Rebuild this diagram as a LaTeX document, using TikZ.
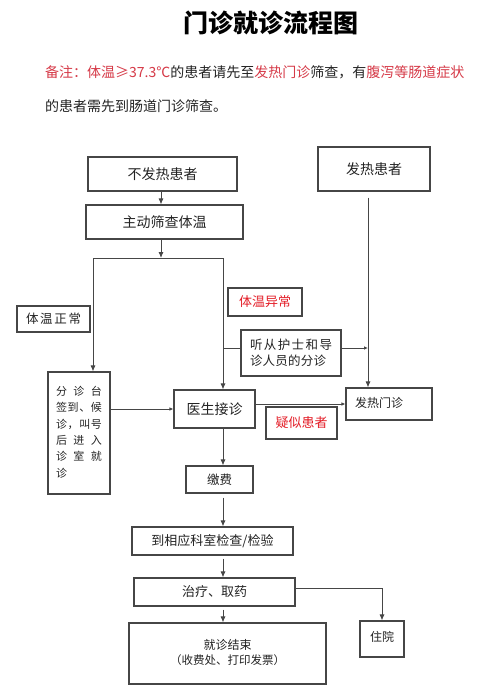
\documentclass[tikz,border=0pt]{standalone}
\usepackage{fontspec}
\newfontfamily\cjk{Noto Sans CJK SC}
\usetikzlibrary{arrows.meta,calc}
\definecolor{notered}{RGB}{214,58,72}
\definecolor{alertred}{RGB}{228,30,40}
\definecolor{ln}{RGB}{70,70,70}
\definecolor{txt}{RGB}{35,35,35}
\newcommand\myfs[1]{\fontsize{#1pt}{#1pt}\selectfont}
\tikzset{
 box/.style={draw=ln, line width=1.1pt, rectangle, inner sep=0pt, text=txt},
 conn/.style={draw=ln, line width=0.9pt},
 arr/.style={conn, -{Latex[length=6pt,width=5pt]}},
 sarr/.style={conn, -{Latex[length=4pt,width=3.5pt]}},
}
\begin{document}
\begin{tikzpicture}[x=1pt,y=-1pt]
\useasboundingbox[fill=white] (0,0) rectangle (500,690);
% title and note
\node[font=\cjk\bfseries\myfs{25}, text=black] (title) at (271,22.5) {门诊就诊流程图};
\node[font=\cjk\myfs{14}, anchor=west, text=txt, inner sep=0pt] (note1) at (45,72)
 {\textcolor{notered}{备注：体温≥37.3℃}的患者请先至\textcolor{notered}{发热门诊}筛查，有\textcolor{notered}{腹泻等肠道症状}};
\node[font=\cjk\myfs{14}, anchor=west, text=txt, inner sep=0pt] (note2) at (45,106) {的患者需先到肠道门诊筛查。};
% boxes
\node[box, font=\cjk\myfs{14}, minimum width=149pt, minimum height=34pt] (n1) at (162.5,174) {\raisebox{-2pt}{不发热患者}};
\node[box, font=\cjk\myfs{14}, minimum width=157pt, minimum height=34pt] (n2) at (164.5,222) {\raisebox{-3pt}{主动筛查体温}};
\node[box, font=\cjk\myfs{14}, minimum width=112pt, minimum height=44pt] (fp) at (374,169) {发热患者};
\node[box, font=\cjk\myfs{12.5}, minimum width=73pt, minimum height=26pt] (tzc) at (53.5,319) {\makebox[55pt][s]{体\hfill 温\hfill 正\hfill 常}};
\node[box, font=\cjk\myfs{13}, text=alertred, minimum width=74pt, minimum height=28pt] (tyc) at (265,302) {体温异常};
\node[box, font=\cjk\myfs{12.5}, minimum width=100pt, minimum height=46pt, align=left] (tc) at (291,353)
 {\makebox[82pt][s]{听\hfill 从\hfill 护\hfill 士\hfill 和\hfill 导}\\[3pt]\makebox[82pt][l]{\makebox[76pt][s]{诊\hfill 人\hfill 员\hfill 的\hfill 分\hfill 诊}}};
\node[box, font=\cjk\myfs{11}, minimum width=62pt, minimum height=122pt] (fz) at (79,433)
 {\raisebox{9.5pt}{\fontsize{11pt}{16.3pt}\selectfont\begin{tabular}{@{}l@{}}
 \makebox[46pt][s]{分\hfill 诊\hfill 台}\\
 \makebox[46pt][s]{签\hfill 到\hfill 、\hfill 候}\\
 \makebox[46pt][s]{诊\hfill ，\hfill 叫\hfill 号}\\
 \makebox[46pt][s]{后\hfill 进\hfill 入}\\
 \makebox[46pt][s]{诊\hfill 室\hfill 就}\\
 诊
 \end{tabular}}};
\node[box, font=\cjk\myfs{14}, minimum width=81pt, minimum height=38pt] (ys) at (214.5,409) {医生接诊};
\node[box, font=\cjk\myfs{12}, minimum width=86pt, minimum height=32pt] (fm) at (389,404) {\raisebox{3pt}{发热门诊\hspace{20pt}}};
\node[box, font=\cjk\myfs{13}, text=alertred, minimum width=71pt, minimum height=32pt] (yshz) at (301.5,423) {疑似患者};
\node[box, font=\cjk\myfs{12.5}, minimum width=67pt, minimum height=27pt] (jf) at (219.5,479.5) {缴费};
\node[box, font=\cjk\myfs{13}, minimum width=161pt, minimum height=28pt] (jc) at (212.5,541) {到相应科室检查/检验};
\node[box, font=\cjk\myfs{13}, minimum width=161pt, minimum height=28pt] (zl) at (214.5,592) {治疗、取药};
\node[box, font=\cjk\myfs{12}, minimum width=197pt, minimum height=61pt, align=center] (js) at (227.5,653.5)
 {\raisebox{8pt}{\begin{tabular}{@{}c@{}}就诊结束\\[2pt]{\myfs{11.5}（收费处、打印发票）}\end{tabular}}};
\node[box, font=\cjk\myfs{12}, minimum width=44pt, minimum height=36pt] (zy) at (382,639) {\raisebox{5pt}{住院}};
% coordinates
\coordinate (sp) at (161,258);
\coordinate (cl) at (93,258);
\coordinate (cr) at (223,258);
\coordinate (br) at (223,348);
\coordinate (vr) at (368,348);
\coordinate (zyturn) at (382,588);
% connectors
\draw[arr] (sp |- n1.south) -- (sp |- n2.north);
\draw[arr] (sp |- n2.south) -- (sp);
\draw[conn] (cl) -- (cr);
\draw[arr] (cl) -- (cl |- fz.north);
\draw[arr] (cr) -- (cr |- ys.north);
\draw[conn] (br) -- (br -| tc.west);
\draw[sarr] (br -| tc.east) -- (vr);
\draw[arr, shorten <=6pt] (vr |- fp.south) -- (vr |- fm.north);
\draw[sarr] (fz.east |- ys.west) -- (ys.west);
\draw[sarr] (ys.east |- fm.west) -- (fm.west);
\draw[arr] (cr |- ys.south) -- (cr |- jf.north);
\draw[arr, shorten <=4pt] (cr |- jf.south) -- (cr |- jc.north);
\draw[arr, shorten <=3pt] (cr |- jc.south) -- (cr |- zl.north);
\draw[arr, shorten <=3pt] (cr |- zl.south) -- (cr |- js.north);
\draw[arr] (zl.east |- zyturn) -- (zyturn) -- (zy.north);
\end{tikzpicture}
\end{document}
